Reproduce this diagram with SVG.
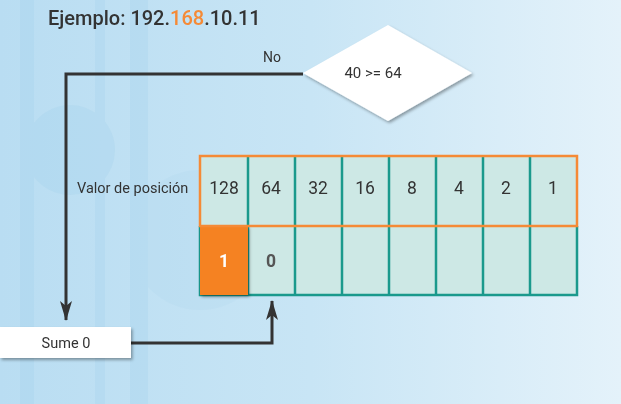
<svg xmlns="http://www.w3.org/2000/svg" width="621" height="404" viewBox="0 0 621 404">
<defs>
<linearGradient id="bg" x1="0" y1="0" x2="1" y2="0">
<stop offset="0" stop-color="#b9ddf2"/>
<stop offset="0.5" stop-color="#c8e5f5"/>
<stop offset="1" stop-color="#e4f2fa"/>
</linearGradient>
<filter id="sh" x="-20%" y="-20%" width="140%" height="150%">
<feDropShadow dx="1.5" dy="2" stdDeviation="1.5" flood-color="#000" flood-opacity="0.35"/>
</filter>
<marker id="ah" viewBox="0 0 20 12" refX="19" refY="6" markerWidth="20" markerHeight="12" orient="auto" markerUnits="userSpaceOnUse">
<path d="M0,0 L20,6 L0,12 L5,6 Z" fill="#333"/>
</marker>
<style>
.t{font-family:"Roboto","Liberation Sans",sans-serif;fill:#333;}
.num{font-size:17.5px;text-anchor:middle;}
.conn{fill:none;stroke:#333;stroke-width:3;}
</style>
</defs>
<rect width="621" height="404" fill="url(#bg)"/>
<g opacity="0.25" fill="#9fcfe9">
<rect x="20" y="0" width="14" height="404"/>
<rect x="95" y="0" width="10" height="404"/>
<rect x="130" y="0" width="18" height="404"/>
<circle cx="70" cy="150" r="45"/>
<circle cx="200" cy="240" r="70" opacity="0.5"/>
</g>

<text class="t" x="48" y="25" font-size="20" font-weight="500">Ejemplo: 192.<tspan fill="#f58a36">168</tspan>.10.11</text>

<g id="connectors">
<polyline class="conn" points="303,74 66,74 66,320" marker-end="url(#ah)"/>
<polyline class="conn" points="131,343 272,343 272,301" marker-end="url(#ah)"/>
<text class="t" x="272" y="62" font-size="14" text-anchor="middle">No</text>
</g>

<g id="decision">
<polygon points="303,73 388,25 472,73 388,121" fill="#fff" filter="url(#sh)"/>
<text class="t" x="373" y="78" font-size="15" text-anchor="middle">40 &gt;= 64</text>
</g>

<g id="sume">
<rect x="0" y="327" width="131" height="31" fill="#fff" filter="url(#sh)"/>
<text class="t" x="66" y="348" font-size="14.5" text-anchor="middle">Sume 0</text>
</g>

<g id="label">
<text class="t" x="77" y="193" font-size="14.5">Valor de posición</text>
</g>

<g id="table">
<rect x="200" y="156" width="377" height="139" fill="#cde8e5"/>
<g stroke="#1a998c" stroke-width="2.5">
<line x1="248" y1="156" x2="248" y2="295"/>
<line x1="295" y1="156" x2="295" y2="295"/>
<line x1="342" y1="156" x2="342" y2="295"/>
<line x1="389" y1="156" x2="389" y2="295"/>
<line x1="436" y1="156" x2="436" y2="295"/>
<line x1="483" y1="156" x2="483" y2="295"/>
<line x1="530" y1="156" x2="530" y2="295"/>
<polyline fill="none" points="200,226 200,295 577,295 577,226"/>
</g>
<rect x="200" y="226" width="48" height="69" fill="#f58220" filter="url(#sh)"/>
<rect x="200" y="156" width="377" height="70" fill="none" stroke="#f58a36" stroke-width="2.5"/>
<text class="t num" x="224" y="194">128</text>
<text class="t num" x="271" y="194">64</text>
<text class="t num" x="318" y="194">32</text>
<text class="t num" x="365" y="194">16</text>
<text class="t num" x="412" y="194">8</text>
<text class="t num" x="459" y="194">4</text>
<text class="t num" x="506" y="194">2</text>
<text class="t num" x="553" y="194">1</text>
<text class="t num" x="224" y="267" font-size="19" font-weight="bold" style="fill:#fff">1</text>
<text class="t num" x="271" y="267" font-size="18" font-weight="bold" style="fill:#555">0</text>
</g>
</svg>
